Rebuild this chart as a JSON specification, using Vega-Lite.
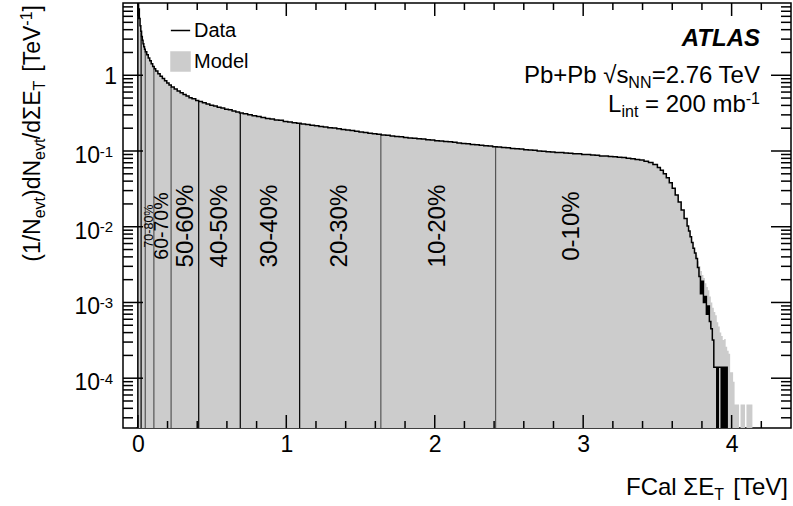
{
  "$schema": "https://vega.github.io/schema/vega-lite/v6.json",
  "width": 668,
  "height": 425,
  "autosize": {"type": "none"},
  "padding": {"left": 123, "top": 3, "right": 2, "bottom": 78},
  "background": "white",
  "config": {
    "view": {"stroke": "black", "strokeWidth": 1.5},
    "font": "Liberation Sans",
    "text": {"font": "Liberation Sans", "color": "black"},
    "axis": {"labelFont": "Liberation Sans", "labelColor": "black", "domain": false, "ticks": false, "grid": false}
  },
  "datasets": {
    "hist": [
      {"et": -0.01, "data": 0, "model": 0},
      {"et": 0, "data": 12, "model": 12},
      {"et": 0.005, "data": 7.5, "model": 7.5},
      {"et": 0.01, "data": 5.6, "model": 5.6},
      {"et": 0.015, "data": 4.5, "model": 4.5},
      {"et": 0.02, "data": 3.8, "model": 3.8},
      {"et": 0.025, "data": 3.25, "model": 3.25},
      {"et": 0.03, "data": 2.9, "model": 2.9},
      {"et": 0.035, "data": 2.6, "model": 2.6},
      {"et": 0.04, "data": 2.38, "model": 2.38},
      {"et": 0.045, "data": 2.2, "model": 2.2},
      {"et": 0.05, "data": 2.05, "model": 2.05},
      {"et": 0.06, "data": 1.86, "model": 1.86},
      {"et": 0.07, "data": 1.69, "model": 1.69},
      {"et": 0.08, "data": 1.55, "model": 1.55},
      {"et": 0.09, "data": 1.42, "model": 1.42},
      {"et": 0.1, "data": 1.31, "model": 1.31},
      {"et": 0.11, "data": 1.22, "model": 1.22},
      {"et": 0.12, "data": 1.14, "model": 1.14},
      {"et": 0.135, "data": 1.05, "model": 1.05},
      {"et": 0.15, "data": 0.97, "model": 0.97},
      {"et": 0.165, "data": 0.905, "model": 0.905},
      {"et": 0.18, "data": 0.845, "model": 0.845},
      {"et": 0.195, "data": 0.79, "model": 0.79},
      {"et": 0.21, "data": 0.745, "model": 0.745},
      {"et": 0.225, "data": 0.7, "model": 0.7},
      {"et": 0.245, "data": 0.66, "model": 0.66},
      {"et": 0.265, "data": 0.62, "model": 0.62},
      {"et": 0.285, "data": 0.588, "model": 0.588},
      {"et": 0.305, "data": 0.556, "model": 0.556},
      {"et": 0.325, "data": 0.532, "model": 0.532},
      {"et": 0.345, "data": 0.505, "model": 0.505},
      {"et": 0.365, "data": 0.488, "model": 0.488},
      {"et": 0.39, "data": 0.466, "model": 0.466},
      {"et": 0.41, "data": 0.452, "model": 0.452},
      {"et": 0.435, "data": 0.432, "model": 0.432},
      {"et": 0.46, "data": 0.419, "model": 0.419},
      {"et": 0.485, "data": 0.401, "model": 0.401},
      {"et": 0.51, "data": 0.393, "model": 0.393},
      {"et": 0.535, "data": 0.378, "model": 0.378},
      {"et": 0.56, "data": 0.371, "model": 0.371},
      {"et": 0.585, "data": 0.357, "model": 0.357},
      {"et": 0.61, "data": 0.35, "model": 0.35},
      {"et": 0.635, "data": 0.337, "model": 0.337},
      {"et": 0.66, "data": 0.327, "model": 0.327},
      {"et": 0.685, "data": 0.318, "model": 0.318},
      {"et": 0.71, "data": 0.31, "model": 0.31},
      {"et": 0.74, "data": 0.301, "model": 0.301},
      {"et": 0.77, "data": 0.291, "model": 0.291},
      {"et": 0.8, "data": 0.285, "model": 0.285},
      {"et": 0.83, "data": 0.276, "model": 0.276},
      {"et": 0.86, "data": 0.269, "model": 0.269},
      {"et": 0.89, "data": 0.264, "model": 0.264},
      {"et": 0.92, "data": 0.257, "model": 0.257},
      {"et": 0.95, "data": 0.254, "model": 0.254},
      {"et": 0.98, "data": 0.246, "model": 0.246},
      {"et": 1.01, "data": 0.242, "model": 0.242},
      {"et": 1.04, "data": 0.236, "model": 0.236},
      {"et": 1.07, "data": 0.232, "model": 0.232},
      {"et": 1.1, "data": 0.227, "model": 0.227},
      {"et": 1.13, "data": 0.223, "model": 0.223},
      {"et": 1.16, "data": 0.219, "model": 0.219},
      {"et": 1.19, "data": 0.215, "model": 0.215},
      {"et": 1.22, "data": 0.211, "model": 0.211},
      {"et": 1.25, "data": 0.208, "model": 0.208},
      {"et": 1.28, "data": 0.203, "model": 0.203},
      {"et": 1.31, "data": 0.201, "model": 0.201},
      {"et": 1.34, "data": 0.196, "model": 0.196},
      {"et": 1.37, "data": 0.193, "model": 0.193},
      {"et": 1.4, "data": 0.189, "model": 0.189},
      {"et": 1.43, "data": 0.186, "model": 0.186},
      {"et": 1.46, "data": 0.182, "model": 0.182},
      {"et": 1.49, "data": 0.178, "model": 0.178},
      {"et": 1.52, "data": 0.176, "model": 0.176},
      {"et": 1.55, "data": 0.172, "model": 0.172},
      {"et": 1.58, "data": 0.169, "model": 0.169},
      {"et": 1.61, "data": 0.166, "model": 0.166},
      {"et": 1.64, "data": 0.163, "model": 0.163},
      {"et": 1.67, "data": 0.161, "model": 0.161},
      {"et": 1.7, "data": 0.158, "model": 0.158},
      {"et": 1.73, "data": 0.155, "model": 0.155},
      {"et": 1.76, "data": 0.154, "model": 0.154},
      {"et": 1.79, "data": 0.151, "model": 0.151},
      {"et": 1.82, "data": 0.149, "model": 0.149},
      {"et": 1.85, "data": 0.147, "model": 0.147},
      {"et": 1.88, "data": 0.145, "model": 0.145},
      {"et": 1.91, "data": 0.144, "model": 0.144},
      {"et": 1.94, "data": 0.141, "model": 0.141},
      {"et": 1.97, "data": 0.14, "model": 0.14},
      {"et": 2.0, "data": 0.137, "model": 0.137},
      {"et": 2.03, "data": 0.136, "model": 0.136},
      {"et": 2.06, "data": 0.133, "model": 0.133},
      {"et": 2.09, "data": 0.132, "model": 0.132},
      {"et": 2.12, "data": 0.13, "model": 0.13},
      {"et": 2.15, "data": 0.128, "model": 0.128},
      {"et": 2.18, "data": 0.126, "model": 0.126},
      {"et": 2.21, "data": 0.125, "model": 0.125},
      {"et": 2.24, "data": 0.122, "model": 0.122},
      {"et": 2.27, "data": 0.121, "model": 0.121},
      {"et": 2.3, "data": 0.119, "model": 0.119},
      {"et": 2.33, "data": 0.117, "model": 0.117},
      {"et": 2.36, "data": 0.116, "model": 0.116},
      {"et": 2.39, "data": 0.114, "model": 0.114},
      {"et": 2.42, "data": 0.113, "model": 0.113},
      {"et": 2.45, "data": 0.111, "model": 0.111},
      {"et": 2.48, "data": 0.11, "model": 0.11},
      {"et": 2.51, "data": 0.108, "model": 0.108},
      {"et": 2.54, "data": 0.107, "model": 0.107},
      {"et": 2.57, "data": 0.106, "model": 0.106},
      {"et": 2.6, "data": 0.104, "model": 0.104},
      {"et": 2.63, "data": 0.103, "model": 0.103},
      {"et": 2.66, "data": 0.102, "model": 0.102},
      {"et": 2.69, "data": 0.1, "model": 0.1},
      {"et": 2.72, "data": 0.0995, "model": 0.0995},
      {"et": 2.75, "data": 0.098, "model": 0.098},
      {"et": 2.78, "data": 0.0972, "model": 0.0972},
      {"et": 2.81, "data": 0.0958, "model": 0.0958},
      {"et": 2.84, "data": 0.0952, "model": 0.0952},
      {"et": 2.87, "data": 0.094, "model": 0.094},
      {"et": 2.9, "data": 0.0935, "model": 0.0935},
      {"et": 2.93, "data": 0.0922, "model": 0.0922},
      {"et": 2.96, "data": 0.0918, "model": 0.0918},
      {"et": 2.99, "data": 0.0902, "model": 0.0902},
      {"et": 3.02, "data": 0.0898, "model": 0.0898},
      {"et": 3.05, "data": 0.0885, "model": 0.0885},
      {"et": 3.08, "data": 0.0878, "model": 0.0878},
      {"et": 3.11, "data": 0.0862, "model": 0.0862},
      {"et": 3.14, "data": 0.0858, "model": 0.0858},
      {"et": 3.17, "data": 0.0845, "model": 0.0845},
      {"et": 3.2, "data": 0.0838, "model": 0.0838},
      {"et": 3.23, "data": 0.0826, "model": 0.0826},
      {"et": 3.26, "data": 0.0818, "model": 0.0818},
      {"et": 3.29, "data": 0.0802, "model": 0.0802},
      {"et": 3.32, "data": 0.0788, "model": 0.0788},
      {"et": 3.35, "data": 0.0772, "model": 0.0772},
      {"et": 3.38, "data": 0.0758, "model": 0.0758},
      {"et": 3.41, "data": 0.0735, "model": 0.0735},
      {"et": 3.44, "data": 0.0705, "model": 0.0705},
      {"et": 3.47, "data": 0.0665, "model": 0.0665},
      {"et": 3.5, "data": 0.0605, "model": 0.0605},
      {"et": 3.52, "data": 0.0555, "model": 0.0555},
      {"et": 3.54, "data": 0.0502, "model": 0.0502},
      {"et": 3.56, "data": 0.0442, "model": 0.0442},
      {"et": 3.58, "data": 0.0382, "model": 0.0382},
      {"et": 3.6, "data": 0.0322, "model": 0.0322},
      {"et": 3.62, "data": 0.0262, "model": 0.0262},
      {"et": 3.64, "data": 0.0212, "model": 0.0212},
      {"et": 3.66, "data": 0.0166, "model": 0.0166},
      {"et": 3.68, "data": 0.0128, "model": 0.0128},
      {"et": 3.7, "data": 0.0102, "model": 0.0102},
      {"et": 3.71, "data": 0.0088, "model": 0.0088},
      {"et": 3.72, "data": 0.0074, "model": 0.0074},
      {"et": 3.73, "data": 0.0062, "model": 0.0062},
      {"et": 3.74, "data": 0.0052, "model": 0.0052},
      {"et": 3.75, "data": 0.0045, "model": 0.0045},
      {"et": 3.76, "data": 0.0038, "model": 0.0042},
      {"et": 3.77, "data": 0.0029, "model": 0.0035},
      {"et": 3.78, "data": 0.0022, "model": 0.003},
      {"et": 3.79, "data": 0.0013, "model": 0.0026},
      {"et": 3.8, "data": 0.0019, "model": 0.0023},
      {"et": 3.81, "data": 0.001, "model": 0.0021},
      {"et": 3.82, "data": 0.0012, "model": 0.0018},
      {"et": 3.83, "data": 0.0007, "model": 0.0016},
      {"et": 3.84, "data": 0.0009, "model": 0.00145},
      {"et": 3.85, "data": 0.00056, "model": 0.0012},
      {"et": 3.86, "data": 0.00045, "model": 0.001},
      {"et": 3.87, "data": 0.00032, "model": 0.00085},
      {"et": 3.88, "data": 0.00014, "model": 0.00075},
      {"et": 3.89, "data": 0.00014, "model": 0.00068},
      {"et": 3.9, "data": 0, "model": 0.00055},
      {"et": 3.91, "data": 0.00014, "model": 0.00048},
      {"et": 3.92, "data": 0.00014, "model": 0.0004},
      {"et": 3.93, "data": 0, "model": 0.00036},
      {"et": 3.94, "data": 0.00014, "model": 0.00032},
      {"et": 3.95, "data": 0, "model": 0.00033},
      {"et": 3.96, "data": 0.00014, "model": 0.00026},
      {"et": 3.97, "data": 0, "model": 0.00023},
      {"et": 3.98, "data": null, "model": 0.00021},
      {"et": 3.99, "data": null, "model": 0.00012},
      {"et": 4.0, "data": null, "model": 0.00012},
      {"et": 4.01, "data": null, "model": 0.00009},
      {"et": 4.02, "data": null, "model": 0.000045},
      {"et": 4.03, "data": null, "model": 0.000045},
      {"et": 4.04, "data": null, "model": 0.000045},
      {"et": 4.05, "data": null, "model": 0},
      {"et": 4.06, "data": null, "model": 0.000045},
      {"et": 4.07, "data": null, "model": 0.000045},
      {"et": 4.08, "data": null, "model": 0.000045},
      {"et": 4.09, "data": null, "model": 0},
      {"et": 4.1, "data": null, "model": 0.000045},
      {"et": 4.11, "data": null, "model": 0.000045},
      {"et": 4.12, "data": null, "model": 0.000045},
      {"et": 4.13, "data": null, "model": 0.000045},
      {"et": 4.14, "data": null, "model": 0}
    ],
    "cuts": [
      {"cut": 0.022, "top": 3.7},
      {"cut": 0.05, "top": 2.05},
      {"cut": 0.108, "top": 1.23},
      {"cut": 0.224, "top": 0.7},
      {"cut": 0.41, "top": 0.452},
      {"cut": 0.69, "top": 0.317},
      {"cut": 1.09, "top": 0.228},
      {"cut": 1.637, "top": 0.163},
      {"cut": 2.41, "top": 0.114}
    ],
    "labels": [
      {"label": "0-10%", "pos": 2.923},
      {"label": "10-20%", "pos": 2.024},
      {"label": "20-30%", "pos": 1.362},
      {"label": "30-40%", "pos": 0.891},
      {"label": "40-50%", "pos": 0.554},
      {"label": "50-60%", "pos": 0.323},
      {"label": "60-70%", "pos": 0.166},
      {"label": "70-80%", "pos": 0.075}
    ],
    "decades": [
      {"v": 0.1, "exp": "-1"},
      {"v": 0.01, "exp": "-2"},
      {"v": 0.001, "exp": "-3"},
      {"v": 0.0001, "exp": "-4"}
    ],
    "xmajor": [{"v": 0}, {"v": 1}, {"v": 2}, {"v": 3}, {"v": 4}],
    "xminor": [{"v": 0.2}, {"v": 0.4}, {"v": 0.6}, {"v": 0.8}, {"v": 1.2}, {"v": 1.4}, {"v": 1.6}, {"v": 1.8}, {"v": 2.2}, {"v": 2.4}, {"v": 2.6}, {"v": 2.8}, {"v": 3.2}, {"v": 3.4}, {"v": 3.6}, {"v": 3.8}, {"v": 4.2}],
    "ymajor": [{"v": 0.0001}, {"v": 0.001}, {"v": 0.01}, {"v": 0.1}, {"v": 1}],
    "yminor": [{"v": 3e-5}, {"v": 4e-5}, {"v": 5e-5}, {"v": 6e-5}, {"v": 7e-5}, {"v": 8e-5}, {"v": 9e-5},
      {"v": 0.0002}, {"v": 0.0003}, {"v": 0.0004}, {"v": 0.0005}, {"v": 0.0006}, {"v": 0.0007}, {"v": 0.0008}, {"v": 0.0009},
      {"v": 0.002}, {"v": 0.003}, {"v": 0.004}, {"v": 0.005}, {"v": 0.006}, {"v": 0.007}, {"v": 0.008}, {"v": 0.009},
      {"v": 0.02}, {"v": 0.03}, {"v": 0.04}, {"v": 0.05}, {"v": 0.06}, {"v": 0.07}, {"v": 0.08}, {"v": 0.09},
      {"v": 0.2}, {"v": 0.3}, {"v": 0.4}, {"v": 0.5}, {"v": 0.6}, {"v": 0.7}, {"v": 0.8}, {"v": 0.9},
      {"v": 2}, {"v": 3}, {"v": 4}, {"v": 5}, {"v": 6}, {"v": 7}, {"v": 8}]
  },
  "layer": [
    {
      "data": {"name": "hist"},
      "mark": {"type": "area", "interpolate": "step-after", "clip": true, "invalid": "show"},
      "encoding": {
        "x": {"field": "et", "type": "quantitative",
          "scale": {"domain": [-0.1, 4.4], "nice": false, "zero": false},
          "axis": {"orient": "bottom", "title": null, "values": [0, 1, 2, 3, 4], "format": "d",
            "labelOverlap": false, "labelFlush": false, "labelFontSize": 23, "labelPadding": 5,
            "ticks": false, "grid": false, "domain": false}},
        "y": {"field": "model", "type": "quantitative",
          "scale": {"type": "log", "domain": [2.2e-5, 9], "nice": false, "clamp": true},
          "axis": null},
        "y2": {"datum": 2.2e-5},
        "fill": {"datum": "Model", "type": "nominal", "scale": {"range": ["#cccccc"]},
          "legend": {"orient": "none", "legendX": 47, "legendY": 48, "title": null, "symbolType": "square", "symbolSize": 420, "symbolStrokeWidth": 0, "labelFontSize": 20, "labelFont": "Liberation Sans", "labelColor": "black", "labelOffset": 3, "padding": 0}}
      }
    },
    {
      "data": {"name": "cuts"},
      "mark": {"type": "rule", "strokeWidth": 1.2},
      "encoding": {
        "x": {"field": "cut", "type": "quantitative"},
        "y": {"field": "top", "type": "quantitative"},
        "y2": {"datum": 2.2e-5},
        "color": {"condition": {"test": "datum.cut < 0.03 || (datum.cut > 0.3 && datum.cut < 1.2)", "value": "#000000"}, "value": "#555555"}
      }
    },
    {
      "data": {"name": "hist"},
      "transform": [{"filter": "datum.data != null"}],
      "mark": {"type": "line", "interpolate": "step-after", "clip": true, "invalid": "show", "strokeWidth": 1.5},
      "encoding": {
        "x": {"field": "et", "type": "quantitative"},
        "y": {"field": "data", "type": "quantitative"},
        "stroke": {"datum": "Data", "type": "nominal", "scale": {"range": ["#000000"]},
          "legend": {"orient": "none", "legendX": 47, "legendY": 17, "title": null, "symbolType": "stroke", "symbolSize": 372, "symbolStrokeWidth": 1.5, "labelFontSize": 20, "labelFont": "Liberation Sans", "labelColor": "black", "labelOffset": 3, "padding": 0}}
      }
    },
    {
      "data": {"name": "xmajor"},
      "mark": {"type": "tick", "orient": "vertical", "size": 13, "thickness": 1.5, "color": "#000000", "opacity": 1},
      "encoding": {
        "x": {"field": "v", "type": "quantitative"},
        "y": {"datum": 2.681e-5, "type": "quantitative"}
      }
    },
    {
      "data": {"name": "xminor"},
      "mark": {"type": "tick", "orient": "vertical", "size": 7, "thickness": 1.5, "color": "#000000", "opacity": 1},
      "encoding": {
        "x": {"field": "v", "type": "quantitative"},
        "y": {"datum": 2.447e-5, "type": "quantitative"}
      }
    },
    {
      "data": {"name": "xmajor"},
      "mark": {"type": "tick", "orient": "vertical", "size": 13, "thickness": 1.5, "color": "#000000", "opacity": 1},
      "encoding": {
        "x": {"field": "v", "type": "quantitative"},
        "y": {"datum": 7.385, "type": "quantitative"}
      }
    },
    {
      "data": {"name": "xminor"},
      "mark": {"type": "tick", "orient": "vertical", "size": 7, "thickness": 1.5, "color": "#000000", "opacity": 1},
      "encoding": {
        "x": {"field": "v", "type": "quantitative"},
        "y": {"datum": 8.091, "type": "quantitative"}
      }
    },
    {
      "data": {"name": "ymajor"},
      "mark": {"type": "tick", "orient": "horizontal", "size": 20, "thickness": 1.5, "color": "#000000", "opacity": 1},
      "encoding": {
        "y": {"field": "v", "type": "quantitative"},
        "x": {"datum": -0.0326, "type": "quantitative"}
      }
    },
    {
      "data": {"name": "yminor"},
      "mark": {"type": "tick", "orient": "horizontal", "size": 10, "thickness": 1.5, "color": "#000000", "opacity": 1},
      "encoding": {
        "y": {"field": "v", "type": "quantitative"},
        "x": {"datum": -0.0663, "type": "quantitative"}
      }
    },
    {
      "data": {"name": "ymajor"},
      "mark": {"type": "tick", "orient": "horizontal", "size": 20, "thickness": 1.5, "color": "#000000", "opacity": 1},
      "encoding": {
        "y": {"field": "v", "type": "quantitative"},
        "x": {"datum": 4.3326, "type": "quantitative"}
      }
    },
    {
      "data": {"name": "yminor"},
      "mark": {"type": "tick", "orient": "horizontal", "size": 10, "thickness": 1.5, "color": "#000000", "opacity": 1},
      "encoding": {
        "y": {"field": "v", "type": "quantitative"},
        "x": {"datum": 4.3663, "type": "quantitative"}
      }
    },
    {
      "data": {"name": "labels"},
      "transform": [{"filter": "datum.label != '60-70%' && datum.label != '70-80%'"}],
      "mark": {"type": "text", "angle": 270, "align": "center", "baseline": "middle", "fontSize": 24},
      "encoding": {
        "x": {"field": "pos", "type": "quantitative"},
        "y": {"datum": 0.0102, "type": "quantitative"},
        "text": {"field": "label"}
      }
    },
    {
      "data": {"name": "labels"},
      "transform": [{"filter": "datum.label == '60-70%'"}],
      "mark": {"type": "text", "angle": 270, "align": "center", "baseline": "middle", "fontSize": 19.5},
      "encoding": {
        "x": {"field": "pos", "type": "quantitative"},
        "y": {"datum": 0.0102, "type": "quantitative"},
        "text": {"field": "label"}
      }
    },
    {
      "data": {"name": "labels"},
      "transform": [{"filter": "datum.label == '70-80%'"}],
      "mark": {"type": "text", "angle": 270, "align": "center", "baseline": "middle", "fontSize": 12.5},
      "encoding": {
        "x": {"field": "pos", "type": "quantitative"},
        "y": {"datum": 0.0102, "type": "quantitative"},
        "text": {"field": "label"}
      }
    },
    {
      "data": {"name": "decades"},
      "mark": {"type": "text", "text": "10", "align": "right", "baseline": "alphabetic", "fontSize": 23, "dx": -23, "dy": 12},
      "encoding": {
        "x": {"datum": -0.1, "type": "quantitative"},
        "y": {"field": "v", "type": "quantitative"}
      }
    },
    {
      "data": {"name": "decades"},
      "mark": {"type": "text", "align": "right", "baseline": "alphabetic", "fontSize": 15, "dx": -10, "dy": 5.5},
      "encoding": {
        "x": {"datum": -0.1, "type": "quantitative"},
        "y": {"field": "v", "type": "quantitative"},
        "text": {"field": "exp"}
      }
    },
    {
      "data": {"values": [{}]},
      "mark": {"type": "text", "text": "1", "align": "right", "baseline": "alphabetic", "fontSize": 23, "dx": -6, "dy": 9},
      "encoding": {
        "x": {"datum": -0.1, "type": "quantitative"},
        "y": {"datum": 1, "type": "quantitative"}
      }
    },
    {
      "data": {"values": [{}]},
      "mark": {"type": "text", "text": "ATLAS", "align": "right", "baseline": "alphabetic", "fontSize": 24, "fontWeight": "bold", "fontStyle": "italic"},
      "encoding": {
        "x": {"datum": 4.191, "type": "quantitative"},
        "y": {"datum": 2.435, "type": "quantitative"}
      }
    },
    {
      "data": {"values": [{}]},
      "mark": {"type": "text", "text": "=2.76 TeV", "align": "right", "baseline": "alphabetic", "fontSize": 24},
      "encoding": {
        "x": {"datum": 4.191, "type": "quantitative"},
        "y": {"datum": 0.79, "type": "quantitative"}
      }
    },
    {
      "data": {"values": [{}]},
      "mark": {"type": "text", "text": "NN", "align": "right", "baseline": "alphabetic", "fontSize": 16, "dx": -108.5, "dy": 5},
      "encoding": {
        "x": {"datum": 4.191, "type": "quantitative"},
        "y": {"datum": 0.79, "type": "quantitative"}
      }
    },
    {
      "data": {"values": [{}]},
      "mark": {"type": "text", "text": "Pb+Pb √s", "align": "right", "baseline": "alphabetic", "fontSize": 24, "dx": -131.5},
      "encoding": {
        "x": {"datum": 4.191, "type": "quantitative"},
        "y": {"datum": 0.79, "type": "quantitative"}
      }
    },
    {
      "data": {"values": [{}]},
      "mark": {"type": "text", "text": "-1", "align": "right", "baseline": "alphabetic", "fontSize": 16, "dy": -8},
      "encoding": {
        "x": {"datum": 4.191, "type": "quantitative"},
        "y": {"datum": 0.327, "type": "quantitative"}
      }
    },
    {
      "data": {"values": [{}]},
      "mark": {"type": "text", "text": " = 200 mb", "align": "right", "baseline": "alphabetic", "fontSize": 24, "dx": -14.2},
      "encoding": {
        "x": {"datum": 4.191, "type": "quantitative"},
        "y": {"datum": 0.327, "type": "quantitative"}
      }
    },
    {
      "data": {"values": [{}]},
      "mark": {"type": "text", "text": "int", "align": "right", "baseline": "alphabetic", "fontSize": 16, "dx": -121.6, "dy": 5},
      "encoding": {
        "x": {"datum": 4.191, "type": "quantitative"},
        "y": {"datum": 0.327, "type": "quantitative"}
      }
    },
    {
      "data": {"values": [{}]},
      "mark": {"type": "text", "text": "L", "align": "right", "baseline": "alphabetic", "fontSize": 24, "dx": -138.5},
      "encoding": {
        "x": {"datum": 4.191, "type": "quantitative"},
        "y": {"datum": 0.327, "type": "quantitative"}
      }
    },
    {
      "data": {"values": [{}]},
      "mark": {"type": "text", "text": " [TeV]", "align": "right", "baseline": "alphabetic", "fontSize": 24, "dx": -3, "dy": 67},
      "encoding": {
        "x": {"datum": 4.4, "type": "quantitative"},
        "y": {"datum": 2.2e-5, "type": "quantitative"}
      }
    },
    {
      "data": {"values": [{}]},
      "mark": {"type": "text", "text": "T", "align": "right", "baseline": "alphabetic", "fontSize": 16, "dx": -67, "dy": 72},
      "encoding": {
        "x": {"datum": 4.4, "type": "quantitative"},
        "y": {"datum": 2.2e-5, "type": "quantitative"}
      }
    },
    {
      "data": {"values": [{}]},
      "mark": {"type": "text", "text": "FCal ΣE", "align": "right", "baseline": "alphabetic", "fontSize": 24, "dx": -76.8, "dy": 67},
      "encoding": {
        "x": {"datum": 4.4, "type": "quantitative"},
        "y": {"datum": 2.2e-5, "type": "quantitative"}
      }
    },
    {
      "data": {"values": [{}]},
      "mark": {"type": "text", "text": "]", "angle": 270, "align": "right", "baseline": "alphabetic", "fontSize": 23, "dx": -2, "dy": -83},
      "encoding": {
        "x": {"datum": -0.1, "type": "quantitative"},
        "y": {"datum": 9, "type": "quantitative"}
      }
    },
    {
      "data": {"values": [{}]},
      "mark": {"type": "text", "text": "-1", "angle": 270, "align": "right", "baseline": "alphabetic", "fontSize": 16, "dx": -8.4, "dy": -91},
      "encoding": {
        "x": {"datum": -0.1, "type": "quantitative"},
        "y": {"datum": 9, "type": "quantitative"}
      }
    },
    {
      "data": {"values": [{}]},
      "mark": {"type": "text", "text": " [TeV", "angle": 270, "align": "right", "baseline": "alphabetic", "fontSize": 23, "dx": -22.6, "dy": -83},
      "encoding": {
        "x": {"datum": -0.1, "type": "quantitative"},
        "y": {"datum": 9, "type": "quantitative"}
      }
    },
    {
      "data": {"values": [{}]},
      "mark": {"type": "text", "text": "T", "angle": 270, "align": "right", "baseline": "alphabetic", "fontSize": 16, "dx": -77.6, "dy": -78},
      "encoding": {
        "x": {"datum": -0.1, "type": "quantitative"},
        "y": {"datum": 9, "type": "quantitative"}
      }
    },
    {
      "data": {"values": [{}]},
      "mark": {"type": "text", "text": "/dΣE", "angle": 270, "align": "right", "baseline": "alphabetic", "fontSize": 23, "dx": -87.4, "dy": -83},
      "encoding": {
        "x": {"datum": -0.1, "type": "quantitative"},
        "y": {"datum": 9, "type": "quantitative"}
      }
    },
    {
      "data": {"values": [{}]},
      "mark": {"type": "text", "text": "evt", "angle": 270, "align": "right", "baseline": "alphabetic", "fontSize": 16, "dx": -135.6, "dy": -78},
      "encoding": {
        "x": {"datum": -0.1, "type": "quantitative"},
        "y": {"datum": 9, "type": "quantitative"}
      }
    },
    {
      "data": {"values": [{}]},
      "mark": {"type": "text", "text": ")dN", "angle": 270, "align": "right", "baseline": "alphabetic", "fontSize": 23, "dx": -156.9, "dy": -83},
      "encoding": {
        "x": {"datum": -0.1, "type": "quantitative"},
        "y": {"datum": 9, "type": "quantitative"}
      }
    },
    {
      "data": {"values": [{}]},
      "mark": {"type": "text", "text": "evt", "angle": 270, "align": "right", "baseline": "alphabetic", "fontSize": 16, "dx": -194.0, "dy": -78},
      "encoding": {
        "x": {"datum": -0.1, "type": "quantitative"},
        "y": {"datum": 9, "type": "quantitative"}
      }
    },
    {
      "data": {"values": [{}]},
      "mark": {"type": "text", "text": "(1/N", "angle": 270, "align": "right", "baseline": "alphabetic", "fontSize": 23, "dx": -215.3, "dy": -83},
      "encoding": {
        "x": {"datum": -0.1, "type": "quantitative"},
        "y": {"datum": 9, "type": "quantitative"}
      }
    }
  ]
}
